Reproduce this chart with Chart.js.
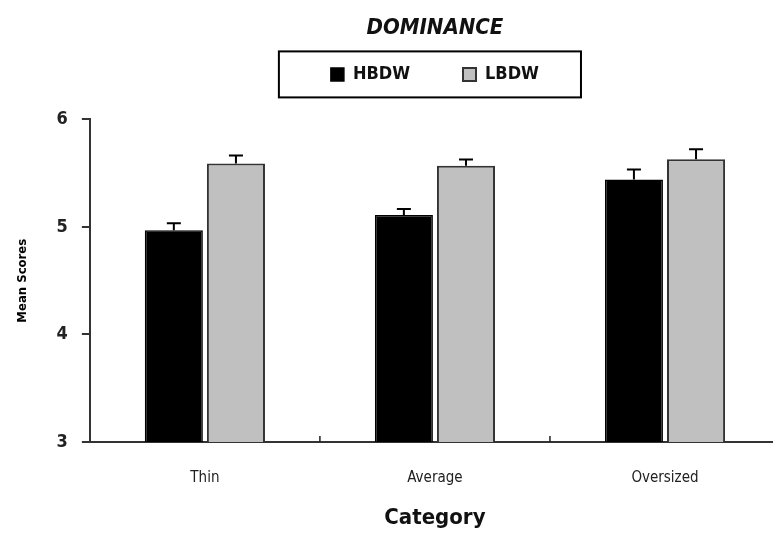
<!DOCTYPE html>
<html>
<head>
<meta charset="utf-8">
<script src="https://cdn.jsdelivr.net/npm/chart.js@4/dist/chart.umd.min.js"></script>
<style>
  html, body { margin: 0; padding: 0; background: #fff; overflow: hidden; }
  #wrap { width: 783px; height: 533px; }
</style>
</head>
<body>
<div id="wrap"><canvas id="grafico"></canvas></div>
<script>
const categorias = ["Thin", "Average", "Oversized"];
const hbdw = [4.97, 5.11, 5.44];
const lbdw = [5.59, 5.57, 5.63];
const hbdw_erro = [0.065, 0.056, 0.093];
const lbdw_erro = [0.074, 0.056, 0.093];
const ticks_y = [3, 4, 5, 6];

const fonte = "'Liberation Sans Narrow', 'DejaVu Sans Condensed', 'Liberation Sans', sans-serif";

// barras de erro (so para cima)
const barrasErro = {
  id: "barrasErro",
  afterDatasetsDraw(chart) {
    const ctx = chart.ctx;
    const y = chart.scales.y;
    chart.data.datasets.forEach((ds, i) => {
      const meta = chart.getDatasetMeta(i);
      meta.data.forEach((bar, j) => {
        const topo = y.getPixelForValue(ds.data[j] + ds.erros[j]);
        ctx.save();
        ctx.strokeStyle = "#000";
        ctx.lineWidth = 2;
        ctx.beginPath();
        ctx.moveTo(bar.x, bar.y);
        ctx.lineTo(bar.x, topo);
        ctx.moveTo(bar.x - 7, topo);
        ctx.lineTo(bar.x + 7, topo);
        ctx.stroke();
        ctx.restore();
      });
    });
  },
};

// marcas entre categorias e caixa da legenda
const extras = {
  id: "extras",
  afterDraw(chart) {
    const ctx = chart.ctx;
    const x = chart.scales.x;
    const base = chart.chartArea.bottom;
    ctx.save();
    ctx.strokeStyle = "#222";
    ctx.lineWidth = 1.5;
    for (let i = 0; i < categorias.length - 1; i++) {
      const px = (x.getPixelForValue(i) + x.getPixelForValue(i + 1)) / 2;
      ctx.beginPath();
      ctx.moveTo(px, base);
      ctx.lineTo(px, base - 6);
      ctx.stroke();
    }
    const caixas = chart.legend.legendHitBoxes;
    if (caixas && caixas.length) {
      const esq = Math.min(...caixas.map(b => b.left)) - 52;
      const dir = Math.max(...caixas.map(b => b.left + b.width)) + 42;
      const meio = caixas[0].top + caixas[0].height / 2;
      ctx.strokeStyle = "#000";
      ctx.lineWidth = 2;
      ctx.strokeRect(esq, meio - 23, dir - esq, 46);
    }
    ctx.restore();
  },
};

new Chart(document.getElementById("grafico"), {
  type: "bar",
  data: {
    labels: categorias,
    datasets: [
      {
        label: "HBDW",
        data: hbdw,
        erros: hbdw_erro,
        backgroundColor: "#000",
        borderColor: "#000",
        borderWidth: 1.5,
      },
      {
        label: "LBDW",
        data: lbdw,
        erros: lbdw_erro,
        backgroundColor: "#c0c0c0",
        borderColor: "#333",
        borderWidth: 2,
      },
    ],
  },
  options: {
    responsive: true,
    maintainAspectRatio: false,
    animation: false,
    categoryPercentage: 0.54,
    barPercentage: 0.935,
    layout: { padding: { left: 15, right: 3, top: 0, bottom: 2 } },
    plugins: {
      title: {
        display: true,
        text: "DOMINANCE",
        fullSize: false,
        color: "#111",
        font: { family: fonte, size: 22, weight: "bold", style: "italic" },
        padding: { top: 15, bottom: -12 },
      },
      // espaco vazio entre a legenda e o grafico
      subtitle: {
        display: true,
        text: "",
        weight: 500,
        fullSize: false,
        font: { size: 10 },
        padding: { top: 14, bottom: 0 },
      },
      legend: {
        fullSize: false,
        labels: {
          boxWidth: 13,
          boxHeight: 13,
          padding: 36,
          color: "#111",
          font: { family: fonte, size: 18, weight: "bold" },
          generateLabels(chart) {
            const itens = Chart.defaults.plugins.legend.labels.generateLabels(chart);
            // espaco entre os dois itens
            itens[0].text = itens[0].text + "   ";
            return itens;
          },
        },
      },
      tooltip: { enabled: false },
    },
    scales: {
      x: {
        grid: { display: false, drawTicks: true, tickLength: 17 },
        border: { color: "#333", width: 2 },
        ticks: {
          color: "#222",
          padding: 10,
          font: { family: fonte, size: 15 },
        },
        title: {
          display: true,
          text: "Category",
          color: "#111",
          font: { family: fonte, size: 22, weight: "bold" },
          padding: { top: 7.6, bottom: 0 },
        },
      },
      y: {
        min: 3,
        max: 6,
        afterBuildTicks(axis) {
          axis.ticks = ticks_y.map(v => ({ value: v }));
        },
        grid: { drawOnChartArea: false, tickLength: 8, color: "#333", lineWidth: 2 },
        border: { color: "#333", width: 2 },
        ticks: {
          color: "#222",
          padding: 14,
          font: { family: fonte, size: 18, weight: "bold" },
        },
        title: {
          display: true,
          text: "Mean Scores",
          color: "#000",
          font: { family: fonte, size: 13, weight: "bold" },
          padding: { top: 0, bottom: 12 },
        },
      },
    },
  },
  plugins: [barrasErro, extras],
});
</script>
</body>
</html>
